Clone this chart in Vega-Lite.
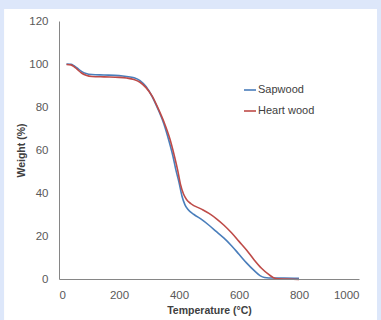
{
  "$schema": "https://vega.github.io/schema/vega-lite/v6.json",
  "width": 300,
  "height": 258,
  "autosize": "none",
  "padding": {"left": 59, "top": 21, "right": 22, "bottom": 41},
  "background": "#dde7fa",
  "config": {
    "view": {"stroke": null},
    "font": "Liberation Sans",
    "axis": {"grid": false, "ticks": false, "domainColor": "#868686", "domainWidth": 1, "labelColor": "#595959", "labelFont": "Liberation Sans", "labelFontSize": 11.5, "titleFont": "Liberation Sans", "titleFontSize": 10.5, "titleFontWeight": "bold", "titleColor": "#404040"}
  },
  "data": {"values": [
    {"t": 25, "w": 100, "s": "Sapwood"},
    {"t": 40, "w": 99.9, "s": "Sapwood"},
    {"t": 50, "w": 99.2, "s": "Sapwood"},
    {"t": 60, "w": 98.2, "s": "Sapwood"},
    {"t": 75, "w": 96.6, "s": "Sapwood"},
    {"t": 90, "w": 95.6, "s": "Sapwood"},
    {"t": 110, "w": 95.1, "s": "Sapwood"},
    {"t": 150, "w": 94.9, "s": "Sapwood"},
    {"t": 200, "w": 94.6, "s": "Sapwood"},
    {"t": 225, "w": 94.2, "s": "Sapwood"},
    {"t": 250, "w": 93.6, "s": "Sapwood"},
    {"t": 270, "w": 92.3, "s": "Sapwood"},
    {"t": 290, "w": 89.5, "s": "Sapwood"},
    {"t": 310, "w": 85, "s": "Sapwood"},
    {"t": 330, "w": 79, "s": "Sapwood"},
    {"t": 350, "w": 72, "s": "Sapwood"},
    {"t": 365, "w": 65, "s": "Sapwood"},
    {"t": 380, "w": 57, "s": "Sapwood"},
    {"t": 390, "w": 50.5, "s": "Sapwood"},
    {"t": 400, "w": 45, "s": "Sapwood"},
    {"t": 410, "w": 38.5, "s": "Sapwood"},
    {"t": 420, "w": 34.5, "s": "Sapwood"},
    {"t": 430, "w": 32.3, "s": "Sapwood"},
    {"t": 450, "w": 30, "s": "Sapwood"},
    {"t": 475, "w": 27.7, "s": "Sapwood"},
    {"t": 500, "w": 25, "s": "Sapwood"},
    {"t": 525, "w": 22, "s": "Sapwood"},
    {"t": 550, "w": 19, "s": "Sapwood"},
    {"t": 575, "w": 15.5, "s": "Sapwood"},
    {"t": 600, "w": 11.5, "s": "Sapwood"},
    {"t": 625, "w": 7.5, "s": "Sapwood"},
    {"t": 650, "w": 4, "s": "Sapwood"},
    {"t": 670, "w": 1.6, "s": "Sapwood"},
    {"t": 685, "w": 0.7, "s": "Sapwood"},
    {"t": 700, "w": 0.5, "s": "Sapwood"},
    {"t": 750, "w": 0.5, "s": "Sapwood"},
    {"t": 800, "w": 0.3, "s": "Sapwood"},
    {"t": 25, "w": 99.8, "s": "Heart wood"},
    {"t": 40, "w": 99.6, "s": "Heart wood"},
    {"t": 50, "w": 98.8, "s": "Heart wood"},
    {"t": 60, "w": 97.6, "s": "Heart wood"},
    {"t": 75, "w": 95.8, "s": "Heart wood"},
    {"t": 90, "w": 94.8, "s": "Heart wood"},
    {"t": 110, "w": 94.2, "s": "Heart wood"},
    {"t": 150, "w": 94, "s": "Heart wood"},
    {"t": 200, "w": 93.8, "s": "Heart wood"},
    {"t": 225, "w": 93.5, "s": "Heart wood"},
    {"t": 250, "w": 92.8, "s": "Heart wood"},
    {"t": 270, "w": 91.5, "s": "Heart wood"},
    {"t": 290, "w": 89, "s": "Heart wood"},
    {"t": 310, "w": 85.2, "s": "Heart wood"},
    {"t": 330, "w": 79.5, "s": "Heart wood"},
    {"t": 350, "w": 73, "s": "Heart wood"},
    {"t": 370, "w": 65, "s": "Heart wood"},
    {"t": 385, "w": 57, "s": "Heart wood"},
    {"t": 395, "w": 51, "s": "Heart wood"},
    {"t": 405, "w": 44, "s": "Heart wood"},
    {"t": 415, "w": 39.5, "s": "Heart wood"},
    {"t": 425, "w": 37, "s": "Heart wood"},
    {"t": 440, "w": 35, "s": "Heart wood"},
    {"t": 475, "w": 32.5, "s": "Heart wood"},
    {"t": 500, "w": 30.5, "s": "Heart wood"},
    {"t": 525, "w": 28, "s": "Heart wood"},
    {"t": 550, "w": 25, "s": "Heart wood"},
    {"t": 575, "w": 21.5, "s": "Heart wood"},
    {"t": 600, "w": 17.5, "s": "Heart wood"},
    {"t": 625, "w": 13.5, "s": "Heart wood"},
    {"t": 650, "w": 9, "s": "Heart wood"},
    {"t": 675, "w": 5, "s": "Heart wood"},
    {"t": 700, "w": 2, "s": "Heart wood"},
    {"t": 715, "w": 0.6, "s": "Heart wood"},
    {"t": 730, "w": 0.1, "s": "Heart wood"},
    {"t": 760, "w": 0, "s": "Heart wood"},
    {"t": 800, "w": -0.2, "s": "Heart wood"}
  ]},
  "layer": [
    {
      "mark": {"type": "rect", "color": "white", "clip": false},
      "encoding": {
        "x": {"datum": -181, "type": "quantitative"},
        "x2": {"datum": 1059},
        "y": {"datum": 125.5, "type": "quantitative"},
        "y2": {"datum": -30}
      }
    },
    {
      "mark": {"type": "line", "strokeWidth": 1.6, "interpolate": "monotone"},
      "encoding": {
        "x": {"field": "t", "type": "quantitative", "title": "Temperature (°C)",
          "scale": {"domain": [0, 1000], "nice": false},
          "axis": {"zindex": 1, "values": [0, 200, 400, 600, 800, 1000], "format": "d", "labelPadding": 10, "titlePadding": 5}},
        "y": {"field": "w", "type": "quantitative", "title": "Weight (%)",
          "scale": {"domain": [0, 120], "nice": false},
          "axis": {"zindex": 1, "values": [0, 20, 40, 60, 80, 100, 120], "labelPadding": 11, "titlePadding": 2}},
        "color": {"field": "s", "type": "nominal", "sort": ["Sapwood", "Heart wood"],
          "scale": {"domain": ["Sapwood", "Heart wood"], "range": ["#4a7ebb", "#be4b48"]},
          "legend": {"title": null, "orient": "none", "legendX": 184, "legendY": 62, "padding": 0,
            "symbolType": "stroke", "symbolSize": 144, "symbolStrokeWidth": 1.6, "labelOffset": 1,
            "labelFontSize": 11, "labelColor": "#404040", "labelFont": "Liberation Sans", "rowPadding": 9}}
      }
    }
  ]
}
